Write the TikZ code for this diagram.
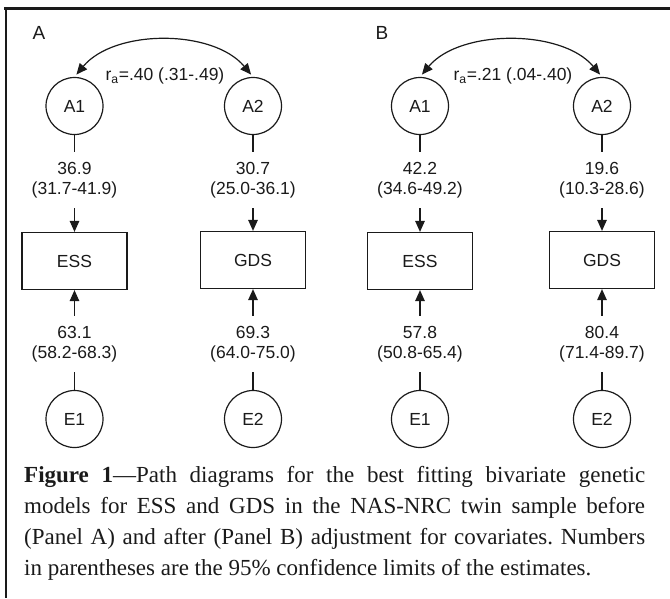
\documentclass[tikz,border=0pt]{standalone}
\usepackage{fontspec}
\setmainfont{Liberation Serif}
\newfontfamily\diagfont{Liberation Sans}
\usetikzlibrary{arrows.meta}
\definecolor{ink}{HTML}{1A1A1A}
\begin{document}
\begin{tikzpicture}[x=1pt,y=-1pt,
  every node/.style={text=ink},
  latent/.style={draw=ink, line width=1.2pt, circle, minimum size=57pt, inner sep=0pt,
    font=\diagfont\fontsize{17.5}{20}\selectfont},
  observed/.style={draw=ink, line width=1.2pt, rectangle, minimum width=105pt, minimum height=57pt,
    inner sep=0pt, font=\diagfont\fontsize{17.5}{20}\selectfont},
  est/.style={align=center, inner xsep=0pt, inner ysep=10pt,
    font=\diagfont\fontsize{17.5}{20}\selectfont},
  panel/.style={font=\diagfont\fontsize{19}{22}\selectfont},
  corr/.style={font=\diagfont\fontsize{17.5}{20}\selectfont},
  plain/.style={draw=ink, line width=1.2pt},
  tip/.tip={Triangle[length=11pt,width=9.5pt]},
  arr/.style={plain, -tip},
  twoway/.style={plain, tip-tip, shorten <=3pt, shorten >=3pt},
]
\useasboundingbox (0,0) rectangle (670,598);

% frame: rule on top and on the left
\draw[ink, line width=3pt] (4,8) -- (670,8);
\draw[ink, line width=2.5pt] (6,8) -- (6,598);

% ---------- Panel A ----------
\node[panel] (pA) at (39,33) {A};
\node[latent] (aA1) at (74.5,106) {A1};
\node[latent] (aA2) at (253,106) {A2};
\node[observed] (aESS) at (74.5,261) {ESS};
\node[observed] (aGDS) at (253,260) {GDS};
\node[latent] (aE1) at (74.5,419) {E1};
\node[latent] (aE2) at (253,419) {E2};
\node[corr] (ra) at (165,76) {r\textsubscript{a}=.40 (.31-.49)};

\node[est] (aa1) at (74.5,180) {36.9\\(31.7-41.9)};
\node[est] (aa2) at (253,180) {30.7\\(25.0-36.1)};
\node[est] (ae1) at (74.5,344) {63.1\\(58.2-68.3)};
\node[est] (ae2) at (253,344) {69.3\\(64.0-75.0)};

\draw[twoway] (aA1.north) .. controls +(40,-48) and +(-40,-48) .. (aA2.north);
\draw[plain] (aA1) -- (aa1);
\draw[arr] (aa1) -- (aESS);
\draw[plain] (aA2) -- (aa2);
\draw[arr] (aa2) -- (aGDS);
\draw[plain] (aE1) -- (ae1);
\draw[arr] (ae1) -- (aESS);
\draw[plain] (aE2) -- (ae2);
\draw[arr] (ae2) -- (aGDS);

% ---------- Panel B ----------
\node[panel] (pB) at (382,33) {B};
\node[latent] (bA1) at (420,106) {A1};
\node[latent] (bA2) at (602,106) {A2};
\node[observed] (bESS) at (420,261) {ESS};
\node[observed] (bGDS) at (602,260) {GDS};
\node[latent] (bE1) at (420,419) {E1};
\node[latent] (bE2) at (602,419) {E2};
\node[corr] (rb) at (513,76) {r\textsubscript{a}=.21 (.04-.40)};

\node[est] (ba1) at (420,180) {42.2\\(34.6-49.2)};
\node[est] (ba2) at (602,180) {19.6\\(10.3-28.6)};
\node[est] (be1) at (420,344) {57.8\\(50.8-65.4)};
\node[est] (be2) at (602,344) {80.4\\(71.4-89.7)};

\draw[twoway] (bA1.north) .. controls +(40,-48) and +(-40,-48) .. (bA2.north);
\draw[plain] (bA1) -- (ba1);
\draw[arr] (ba1) -- (bESS);
\draw[plain] (bA2) -- (ba2);
\draw[arr] (ba2) -- (bGDS);
\draw[plain] (bE1) -- (be1);
\draw[arr] (be1) -- (bESS);
\draw[plain] (bE2) -- (be2);
\draw[arr] (be2) -- (bGDS);

% ---------- caption ----------
\node[anchor=north west, text width=621pt, inner sep=0pt, align=justify,
  font=\fontsize{23}{31}\selectfont\frenchspacing] (cap) at (24,466)
  {\textbf{Figure 1}—Path diagrams for the best fitting bivariate genetic\linebreak
   models for ESS and GDS in the NAS-NRC twin sample before\linebreak
   (Panel A) and after (Panel B) adjustment for covariates. Numbers\linebreak
   in parentheses are the 95\% confidence limits of the estimates.};
\end{tikzpicture}
\end{document}
